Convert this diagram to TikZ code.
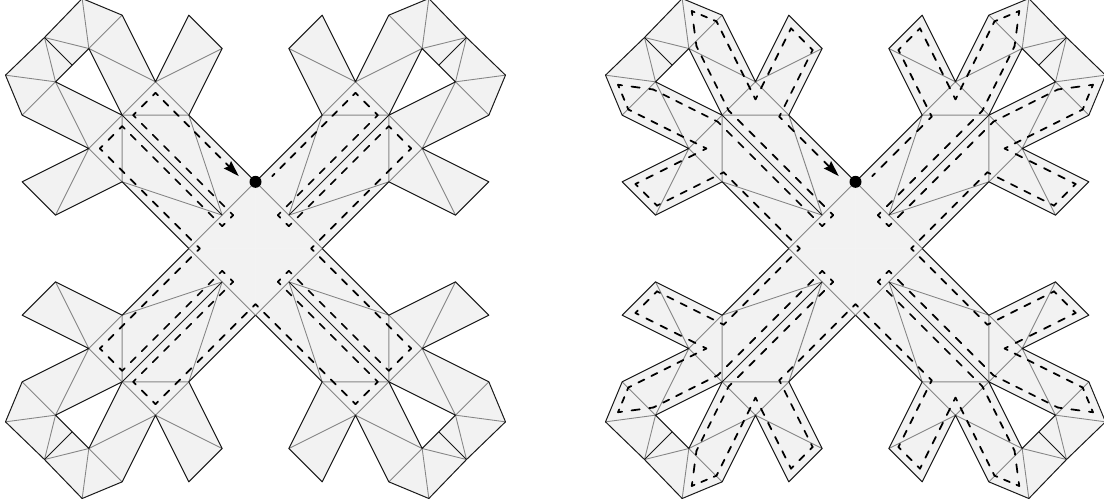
\documentclass[tikz,border=0pt]{standalone}
\usepackage{tikz}
\usetikzlibrary{arrows.meta}

\tikzset{
  sheet/.style={fill=black!5, even odd rule, draw=black!5, line width=0.3pt},
  crease/.style={draw=black!48, line width=0.75pt},
  cut/.style={draw=black!90, line width=0.85pt, line join=round},
  route/.style={draw=black, line width=1.5pt, line cap=round},
  arrowed/.style={-{Stealth[length=4.8mm, width=3mm, inset=0.6mm]}},
  plain/.style={},
  apex/.style={circle, fill=black, inner sep=0pt, minimum size=3.6mm}
}

% one arm of the sheet, upper left
\newcommand{\foldarm}{
  \coordinate (top) at (0,2);
  \coordinate (lft) at (-2,0);
  \coordinate (a) at (-1,1);
  \coordinate (b) at (-2,4);
  \coordinate (c) at (-4,4);
  \coordinate (d) at (-4,2);
  \coordinate (e) at (-3,5);
  \coordinate (f) at (-5,3);
  \coordinate (g) at (-2,7);
  \coordinate (h) at (-1,6);
  \coordinate (i) at (-4,7);
  \coordinate (j) at (-5.2,7.5);
  \coordinate (k) at (-5,6);
  \coordinate (l) at (-6.33,6.33);
  \coordinate (m) at (-5.5,5.5);
  \coordinate (n) at (-6,5);
  \coordinate (o) at (-7.5,5.2);
  \coordinate (p) at (-7,4);
  \coordinate (q) at (-7,2);
  \coordinate (r) at (-6,1);
  \path[sheet] (0,0) -- (top) -- (b) -- (h) -- (g) -- (e) -- (i) -- (j) -- (l) -- (o) -- (p)
    -- (f) -- (q) -- (r) -- (d) -- (lft) -- cycle (c) -- (k) -- (n) -- cycle;
  \draw[crease] (top) -- (lft);
  \draw[crease] (a) -- (b) -- (c) -- (d) -- (a);
  \draw[crease] (d) -- (f) -- (c) -- (e) -- (b);
  \draw[crease] (h) -- (e) -- (k) -- (i);
  \draw[crease] (j) -- (k) -- (l) -- (n) -- (o);
  \draw[crease] (p) -- (n) -- (f) -- (r);
  \draw[cut] (top) -- (b) -- (h) -- (g) -- (e) -- (i) -- (j) -- (l) -- (o) -- (p) -- (f) -- (q)
    -- (r) -- (d) -- (lft);
  \draw[cut] (a) -- (c) -- (k) -- (n) -- (c);
  \draw[cut] (l) -- (m);
}

% dashed piece with half a dash at both ends, so that every corner gets a dash
\newcommand{\routeseg}[5]{
  \pgfmathsetmacro\seglen{veclen(#3-#1,#4-#2)}
  \pgfmathsetmacro\segpat{28.45*\seglen/max(1,round(\seglen/.47))}
  \pgfmathsetmacro\segon{.46*\segpat}
  \pgfmathsetmacro\segoff{.54*\segpat}
  \pgfmathsetmacro\seghalf{.23*\segpat}
  \draw[route,#5,dash pattern=on \segon pt off \segoff pt,dash phase=\seghalf pt] (#1,#2) -- (#3,#4);
}

\begin{document}
\begin{tikzpicture}
\clip (-7.665,-7.635) rectangle (25.455,7.455);

% narrow tour
\foreach \sx/\sy in {1/1, -1/1, 1/-1, -1/-1}{
  \begin{scope}[xscale=\sx, yscale=\sy]
    \foldarm
  \end{scope}
}
\foreach \sx/\sy/\lastx/\lasty/\tipstyle in {1/1/-.5/2.17/arrowed, -1/1/-.5/2.17/plain, 1/-1/0/1.67/plain, -1/-1/0/1.67/plain}{
  \begin{scope}[xscale=\sx, yscale=\sy]
    \foreach \x/\y [remember=\x as \px (initially -1.67), remember=\y as \py (initially 0)] in
      {-4.67/3, -4/3.67, -1/.67, -.67/1, -3.67/4, -3/4.67}{
      \routeseg{\px}{\py}{\x}{\y}{plain}
    }
    \routeseg{-3}{4.67}{\lastx}{\lasty}{\tipstyle}
  \end{scope}
}
\node[apex] (start1) at (0,2) {};

% wide tour
\begin{scope}[xshift=18cm]
\foreach \sx/\sy in {1/1, -1/1, 1/-1, -1/-1}{
  \begin{scope}[xscale=\sx, yscale=\sy]
    \foldarm
  \end{scope}
}
\foreach \sx/\sy/\lastx/\lasty/\tipstyle in {1/1/-.5/2.17/arrowed, -1/1/-.5/2.17/plain, 1/-1/0/1.67/plain, -1/-1/0/1.67/plain}{
  \begin{scope}[xscale=\sx, yscale=\sy]
    \foreach \x/\y [remember=\x as \px (initially -1.67), remember=\y as \py (initially 0)] in
      {-3.956/2.286, -5.956/1.286, -6.604/1.934, -4.473/3, -6.815/4.171, -7.124/4.912, -6.069/4.771,
       -4.133/3.803, -1/.67, -.67/1, -3.803/4.133, -4.771/6.069, -4.912/7.124, -4.171/6.815, -3/4.473,
       -1.934/6.604, -1.286/5.956, -2.286/3.956}{
      \routeseg{\px}{\py}{\x}{\y}{plain}
    }
    \routeseg{-2.286}{3.956}{\lastx}{\lasty}{\tipstyle}
  \end{scope}
}
\node[apex] (start2) at (0,2) {};
\end{scope}
\end{tikzpicture}
\end{document}
